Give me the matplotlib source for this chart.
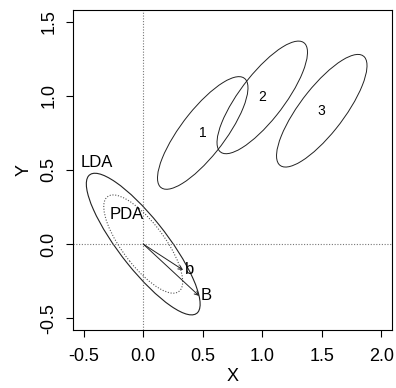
import matplotlib as mpl
mpl.use("Agg")
import matplotlib.pyplot as plt
from matplotlib.patches import Ellipse

plt.rcParams['font.family'] = ['Liberation Sans', 'DejaVu Sans']

# class ellipses (centre, semi-axes, angle in data coords)
class_labels = ["1", "2", "3"]
class_x = [0.50, 1.00, 1.50]
class_y = [0.75, 0.99, 0.90]
class_a = 0.51
class_b = 0.17
class_angle = 45

# discriminant ellipses centred at the origin
disc_names = ["LDA", "PDA"]
disc_a = [0.65, 0.44]
disc_b = [0.186, 0.162]
disc_angle = -45
disc_label_x = [-0.39, -0.135]
disc_label_y = [0.55, 0.20]

# direction vectors
vec_names = ["b", "B"]
vec_x = [0.335, 0.47]
vec_y = [-0.175, -0.35]

xticks = [-0.5, 0.0, 0.5, 1.0, 1.5, 2.0]
yticks = [-0.5, 0.0, 0.5, 1.0, 1.5]

fig = plt.figure(figsize=(3.96, 3.88), dpi=100)
ax = fig.add_axes([73 / 396, 58 / 388, 319 / 396, 320 / 388])
ax.set_xlim(-0.59, 2.09)
ax.set_ylim(-0.58, 1.58)

ax.axvline(0, color='#777777', ls=(0, (1, 1.5)), lw=0.8)
ax.axhline(0, color='#777777', ls=(0, (1, 1.5)), lw=0.8)

for lab, cx, cy in zip(class_labels, class_x, class_y):
    ax.add_patch(Ellipse((cx, cy), 2 * class_a, 2 * class_b, angle=class_angle,
                         fill=False, ec='#222222', lw=0.7))
    ax.text(cx, cy, lab, ha='center', va='center', fontsize=10)

styles = ['-', (0, (1, 1.5))]
cols = ['#222222', '#555555']
for name, a, b, lx, ly, ls, c in zip(disc_names, disc_a, disc_b,
                                      disc_label_x, disc_label_y, styles, cols):
    ax.add_patch(Ellipse((0, 0), 2 * a, 2 * b, angle=disc_angle,
                         fill=False, ec=c, ls=ls, lw=0.8))
    ax.text(lx, ly, name, ha='center', va='center', fontsize=12)

for name, vx, vy in zip(vec_names, vec_x, vec_y):
    ax.annotate('', xy=(vx, vy), xytext=(0, 0),
                arrowprops=dict(arrowstyle='->', lw=0.7, color='#222222',
                                mutation_scale=7, shrinkA=0, shrinkB=0))
    ax.text(vx + 0.015, vy, name, ha='left', va='center', fontsize=12)

ax.set_xticks(xticks)
ax.set_yticks(yticks)
ax.set_xticklabels([f"{t:.1f}" for t in xticks])
ax.set_yticklabels([f"{t:.1f}" for t in yticks], rotation=90, va='center')
ax.tick_params(labelsize=13, length=5, width=0.8, pad=8)
ax.tick_params(axis='y', pad=6)
for s in ax.spines.values():
    s.set_linewidth(0.8)
ax.set_xlabel("X", fontsize=13, labelpad=2)
ax.set_ylabel("Y", fontsize=13, labelpad=6)

fig.savefig("out.png", dpi=100)
